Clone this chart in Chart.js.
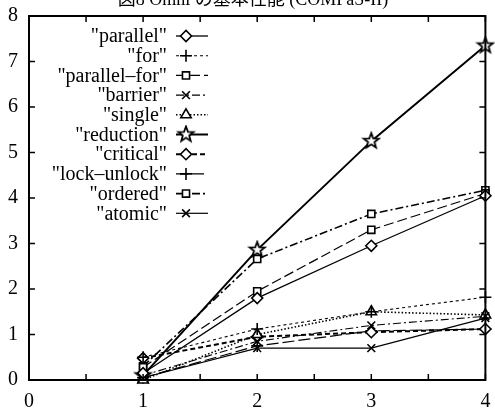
<!DOCTYPE html>
<html>
<head>
<meta charset="utf-8">
<script src="https://cdn.jsdelivr.net/npm/chart.js@4/dist/chart.umd.min.js"></script>
<style>
html,body{margin:0;padding:0;background:#fff;}
#wrap{width:495px;height:410px;}
</style>
</head>
<body>
<div id="wrap"><canvas id="c" width="495" height="410"></canvas></div>
<script>
// ---- data ----
const titleText = "図8 Omni の基本性能 (COMPaS-II)";
const categories = [1, 2, 3, 4];
const seriesNames = ['"parallel"', '"for"', '"parallel\u2013for"', '"barrier"', '"single"', '"reduction"', '"critical"', '"lock\u2013unlock"', '"ordered"', '"atomic"'];
const parallelVals    = [0.15, 1.80, 2.95, 4.05];
const forVals         = [0.50, 1.12, 1.50, 1.82];
const parallelForVals = [0.28, 1.95, 3.30, 4.10];
const barrierVals     = [0.10, 0.85, 1.20, 1.40];
const singleVals      = [0.00, 1.00, 1.50, 1.43];
const reductionVals   = [0.10, 2.86, 5.25, 7.35];
const criticalVals    = [0.48, 0.95, 1.05, 1.12];
const lockUnlockVals  = [0.05, 0.75, 1.08, 1.12];
const orderedVals     = [0.30, 2.66, 3.65, 4.17];
const atomicVals      = [0.05, 0.70, 0.70, 1.36];
const xTickLabels = ['0', '1', '2', '3', '4'];
const yTickLabels = ['0', '1', '2', '3', '4', '5', '6', '7', '8'];
const xMinorTicks = [0, 0.5, 1, 1.5, 2, 2.5, 3, 3.5, 4];
const yMinorTicks = [0, 1, 2, 3, 4, 5, 6, 7, 8];

// ---- star marker ----
function makeStar(r) {
  const s = Math.ceil(r * 2 + 4);
  const cv = document.createElement('canvas');
  cv.width = s; cv.height = s;
  const g = cv.getContext('2d');
  g.beginPath();
  for (let i = 0; i < 10; i++) {
    const rr = i % 2 === 0 ? r : r * 0.42;
    const a = -Math.PI / 2 + i * Math.PI / 5;
    const px = s / 2 + rr * Math.cos(a), py = s / 2 + rr * Math.sin(a);
    if (i === 0) g.moveTo(px, py); else g.lineTo(px, py);
  }
  g.closePath();
  g.fillStyle = '#fff'; g.fill();
  g.lineWidth = 1.8; g.strokeStyle = '#000'; g.stroke();
  return cv;
}
const starImg = makeStar(8);

const allVals = [parallelVals, forVals, parallelForVals, barrierVals, singleVals, reductionVals, criticalVals, lockUnlockVals, orderedVals, atomicVals];
const styles = [
  {dash: [], w: 1.3, ps: 'rectRot', r: 5.5},
  {dash: [3, 3], w: 1.1, ps: 'cross', r: 6},
  {dash: [10, 4], w: 1.2, ps: 'rect', r: 5},
  {dash: [8, 3, 2, 3], w: 1.1, ps: 'crossRot', r: 5.5},
  {dash: [1.5, 2], w: 1.6, ps: 'triangle', r: 6},
  {dash: [], w: 2, ps: starImg, r: 8},
  {dash: [5, 3], w: 2, ps: 'rectRot', r: 5.5},
  {dash: [12, 4], w: 1.2, ps: 'cross', r: 6},
  {dash: [8, 3, 2, 3], w: 1.6, ps: 'rect', r: 5},
  {dash: [], w: 1.2, ps: 'crossRot', r: 5.5}
];

const datasets = seriesNames.map((name, k) => ({
  label: name,
  data: categories.map((x, i) => ({x: x, y: allVals[k][i]})),
  borderColor: '#000',
  borderWidth: styles[k].w,
  borderDash: styles[k].dash,
  pointStyle: styles[k].ps,
  pointRadius: styles[k].r,
  pointBorderWidth: 1.6,
  pointBorderColor: '#000',
  pointBackgroundColor: '#fff',
  tension: 0,
  fill: false,
  clip: false
}));

const serif = '"Liberation Serif", "Times New Roman", serif';

const framePlugin = {
  id: 'frame',
  afterDatasetsDraw(chart) {
    const {ctx, chartArea: a, scales} = chart;
    ctx.save();
    ctx.strokeStyle = '#000';
    ctx.lineWidth = 2;
    ctx.setLineDash([]);
    ctx.strokeRect(a.left, a.top, a.right - a.left, a.bottom - a.top);
    ctx.lineWidth = 1.5;
    ctx.beginPath();
    xMinorTicks.forEach(v => {
      const px = scales.x.getPixelForValue(v);
      ctx.moveTo(px, a.bottom); ctx.lineTo(px, a.bottom - 6);
      ctx.moveTo(px, a.top); ctx.lineTo(px, a.top + 6);
    });
    yMinorTicks.forEach(v => {
      const py = scales.y.getPixelForValue(v);
      ctx.moveTo(a.left, py); ctx.lineTo(a.left + 6, py);
      ctx.moveTo(a.right, py); ctx.lineTo(a.right - 6, py);
    });
    ctx.stroke();
    // legend
    ctx.font = '20px ' + serif;
    ctx.fillStyle = '#000';
    ctx.textAlign = 'right';
    ctx.textBaseline = 'middle';
    seriesNames.forEach((name, k) => {
      const y = 36 + k * 19.7;
      ctx.fillText(name, 167, y + 1);
      ctx.save();
      ctx.lineWidth = styles[k].w;
      ctx.setLineDash(styles[k].dash);
      ctx.beginPath(); ctx.moveTo(176, y); ctx.lineTo(208, y); ctx.stroke();
      ctx.restore();
      ctx.save();
      ctx.fillStyle = '#fff'; ctx.strokeStyle = '#000'; ctx.lineWidth = 1.6;
      Chart.helpers.drawPoint(ctx, {pointStyle: styles[k].ps, radius: styles[k].r, rotation: 0, borderWidth: 1.6}, 186, y);
      ctx.restore();
    });
    // title (cut off at top)
    ctx.font = '18px "Liberation Serif", "Noto Sans CJK JP", serif';
    ctx.textAlign = 'center';
    ctx.textBaseline = 'alphabetic';
    ctx.fillText(titleText, 253, 5);
    ctx.restore();
  }
};

new Chart(document.getElementById('c'), {
  type: 'line',
  data: {datasets},
  options: {
    responsive: false,
    animation: false,
    devicePixelRatio: 1,
    layout: {padding: {top: 16, right: 3, left: 0, bottom: 0}},
    plugins: {legend: {display: false}, tooltip: {enabled: false}},
    scales: {
      x: {
        type: 'linear', min: 0, max: 4,
        afterFit: s => { s.height = 30; },
        grid: {display: false},
        border: {display: true, color: '#000', width: 2},
        ticks: {
          stepSize: 1, padding: 2, color: '#000',
          font: {family: serif, size: 20},
          callback: (v) => xTickLabels[v] !== undefined ? xTickLabels[v] : ''
        }
      },
      y: {
        min: 0, max: 8,
        afterFit: s => { s.width = 29; },
        grid: {display: false},
        border: {display: true, color: '#000', width: 2},
        ticks: {
          stepSize: 1, padding: 3, color: '#000',
          font: {family: serif, size: 20},
          callback: (v) => yTickLabels[v] !== undefined ? yTickLabels[v] : ''
        }
      }
    }
  },
  plugins: [framePlugin]
});
</script>
</body>
</html>
